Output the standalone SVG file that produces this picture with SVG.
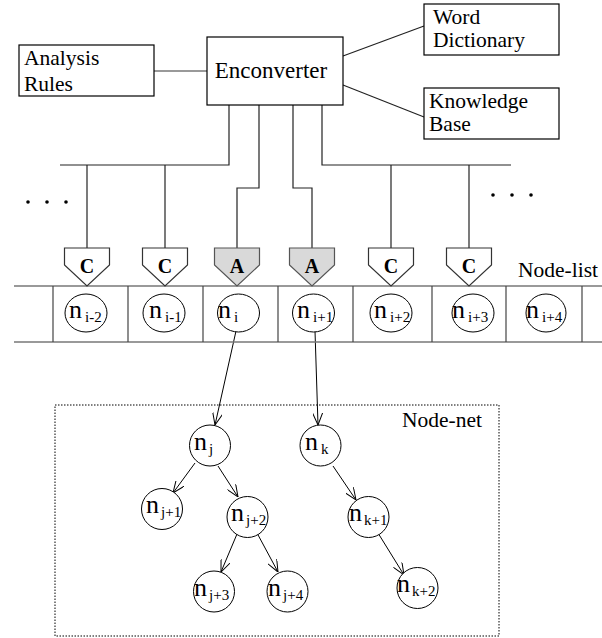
<svg xmlns="http://www.w3.org/2000/svg" width="602" height="638" viewBox="0 0 602 638" font-family="'Liberation Serif', 'Times New Roman', 'DejaVu Serif', serif">
<style>
text{font-family:'Liberation Serif','Times New Roman','DejaVu Serif',serif;fill:#000}
.lbl{font-size:21.5px}
.box{fill:#fff;stroke:#000;stroke-width:1.2}
.ln{fill:none;stroke:#222;stroke-width:1.2}
.gl{fill:none;stroke:#777;stroke-width:1.6}
.pc{fill:#fff;stroke:#333;stroke-width:1.2}
.pa{fill:#d9d9d9;stroke:#555;stroke-width:1.2}
.pt{font-size:20px;font-weight:bold;text-anchor:middle}
.nd{fill:#fff;stroke:#000;stroke-width:1}
.n{font-size:26px}
.s{font-size:15px}
.ar{fill:none;stroke:#000;stroke-width:1}
.dot{fill:#000}
</style>
<defs>
<marker id="arr" viewBox="0 0 12 10" refX="12" refY="5" markerWidth="12" markerHeight="10" markerUnits="userSpaceOnUse" orient="auto">
<path d="M0,0 L12,5 L0,10" fill="none" stroke="#000" stroke-width="1"/>
</marker>
</defs>
<rect width="602" height="638" fill="#fff"/>

<g id="connectors">
<line class="gl" x1="154" y1="71" x2="207" y2="71"/>
<line class="ln" x1="343" y1="56" x2="424" y2="26"/>
<line class="ln" x1="343" y1="85" x2="424" y2="117"/>
<polyline class="ln" points="229,105 229,165 60,165"/>
<line class="ln" x1="87" y1="165" x2="87" y2="248"/>
<line class="ln" x1="165" y1="165" x2="165" y2="248"/>
<polyline class="ln" points="259,105 259,188 237,188 237,248"/>
<polyline class="ln" points="293,105 293,188 312,188 312,248"/>
<polyline class="ln" points="322,105 322,165 511,165"/>
<line class="ln" x1="391" y1="165" x2="391" y2="248"/>
<line class="ln" x1="469" y1="165" x2="469" y2="248"/>
<line class="ar" x1="236" y1="331" x2="215" y2="425" marker-end="url(#arr)"/>
<line class="ar" x1="315" y1="331" x2="318" y2="425" marker-end="url(#arr)"/>
<line class="ar" x1="195" y1="463" x2="173" y2="493" marker-end="url(#arr)"/>
<line class="ar" x1="218" y1="466" x2="238" y2="497" marker-end="url(#arr)"/>
<line class="ar" x1="237" y1="534" x2="221" y2="572" marker-end="url(#arr)"/>
<line class="ar" x1="257" y1="533" x2="278" y2="572" marker-end="url(#arr)"/>
<line class="ar" x1="333" y1="466" x2="356" y2="500" marker-end="url(#arr)"/>
<line class="ar" x1="378" y1="533" x2="404" y2="575" marker-end="url(#arr)"/>
</g>

<g id="analysis-rules">
<rect class="box" x="19" y="45" width="135" height="51"/>
<text class="lbl" x="24" y="65">Analysis</text>
<text class="lbl" x="24" y="91">Rules</text>
</g>
<g id="enconverter">
<rect class="box" x="207" y="37" width="136" height="68"/>
<text class="lbl" x="271" y="78" text-anchor="middle" style="font-size:23px">Enconverter</text>
</g>
<g id="word-dictionary">
<rect class="box" x="424" y="4" width="135" height="51"/>
<text class="lbl" x="433" y="24">Word</text>
<text class="lbl" x="433" y="47">Dictionary</text>
</g>
<g id="knowledge-base">
<rect class="box" x="424" y="88" width="135" height="51"/>
<text class="lbl" x="429" y="108">Knowledge</text>
<text class="lbl" x="429" y="131">Base</text>
</g>

<g id="dots-left">
<circle class="dot" cx="28" cy="202" r="1.8"/>
<circle class="dot" cx="47" cy="202" r="1.8"/>
<circle class="dot" cx="66" cy="202" r="1.8"/>
</g>
<g id="dots-right">
<circle class="dot" cx="493" cy="195" r="1.8"/>
<circle class="dot" cx="512" cy="195" r="1.8"/>
<circle class="dot" cx="531" cy="195" r="1.8"/>
</g>

<g id="node-list">
<line class="gl" x1="14" y1="286" x2="602" y2="286"/>
<line class="gl" x1="14" y1="342" x2="602" y2="342"/>
<g stroke="#444" stroke-width="1.2">
<line x1="53" y1="286" x2="53" y2="342"/>
<line x1="128" y1="286" x2="128" y2="342"/>
<line x1="203" y1="286" x2="203" y2="342"/>
<line x1="278" y1="286" x2="278" y2="342"/>
<line x1="353" y1="286" x2="353" y2="342"/>
<line x1="432" y1="286" x2="432" y2="342"/>
<line x1="506" y1="286" x2="506" y2="342"/>
<line x1="582" y1="286" x2="582" y2="342"/>
</g>
<text class="lbl" x="518" y="277">Node-list</text>
</g>

<g id="marker-c1"><path class="pc" d="M64.5,248 H109.5 V265 L87,286 L64.5,265 Z"/><text class="pt" x="87" y="273">C</text></g>
<g id="marker-c2"><path class="pc" d="M142.5,248 H187.5 V265 L165,286 L142.5,265 Z"/><text class="pt" x="165" y="273">C</text></g>
<g id="marker-a1"><path class="pa" d="M214.5,248 H259.5 V265 L237,286 L214.5,265 Z"/><text class="pt" x="237" y="273">A</text></g>
<g id="marker-a2"><path class="pa" d="M289.5,248 H334.5 V265 L312,286 L289.5,265 Z"/><text class="pt" x="312" y="273">A</text></g>
<g id="marker-c3"><path class="pc" d="M368.5,248 H413.5 V265 L391,286 L368.5,265 Z"/><text class="pt" x="391" y="273">C</text></g>
<g id="marker-c4"><path class="pc" d="M446.5,248 H491.5 V265 L469,286 L446.5,265 Z"/><text class="pt" x="469" y="273">C</text></g>

<g id="n-i-2"><ellipse class="nd" cx="86" cy="313" rx="21" ry="19"/><text x="69" y="318"><tspan class="n">n</tspan><tspan class="s" dx="3" dy="4">i-2</tspan></text></g>
<g id="n-i-1"><ellipse class="nd" cx="164" cy="313" rx="21" ry="19"/><text x="149" y="318"><tspan class="n">n</tspan><tspan class="s" dx="3" dy="4">i-1</tspan></text></g>
<g id="n-i"><ellipse class="nd" cx="238.5" cy="313" rx="21" ry="19"/><text x="218" y="318"><tspan class="n">n</tspan><tspan class="s" dx="3" dy="4">i</tspan></text></g>
<g id="n-i+1"><ellipse class="nd" cx="313.5" cy="313" rx="21" ry="19"/><text x="297" y="318"><tspan class="n">n</tspan><tspan class="s" dx="3" dy="4">i+1</tspan></text></g>
<g id="n-i+2"><ellipse class="nd" cx="391" cy="313" rx="21" ry="19"/><text x="374" y="318"><tspan class="n">n</tspan><tspan class="s" dx="3" dy="4">i+2</tspan></text></g>
<g id="n-i+3"><ellipse class="nd" cx="473" cy="313" rx="21" ry="19"/><text x="452" y="318"><tspan class="n">n</tspan><tspan class="s" dx="3" dy="4">i+3</tspan></text></g>
<g id="n-i+4"><ellipse class="nd" cx="546" cy="313" rx="20" ry="19"/><text x="526" y="318"><tspan class="n">n</tspan><tspan class="s" dx="3" dy="4">i+4</tspan></text></g>

<g id="node-net">
<rect x="55" y="405" width="444" height="231" fill="none" stroke="#000" stroke-width="1" stroke-dasharray="1.5,1.5"/>
<text class="lbl" x="402" y="427">Node-net</text>
</g>

<g id="n-j"><circle class="nd" cx="210" cy="445.5" r="20.5"/><text x="194" y="450"><tspan class="n">n</tspan><tspan class="s" dx="2" dy="4">j</tspan></text></g>
<g id="n-k"><circle class="nd" cx="320.5" cy="445.5" r="20.5"/><text x="305" y="450"><tspan class="n">n</tspan><tspan class="s" dx="3" dy="4">k</tspan></text></g>
<g id="n-j+1"><circle class="nd" cx="162" cy="509" r="20.5"/><text x="146" y="513"><tspan class="n">n</tspan><tspan class="s" dx="2" dy="4">j+1</tspan></text></g>
<g id="n-j+2"><circle class="nd" cx="247.5" cy="517" r="20.5"/><text x="231" y="521"><tspan class="n">n</tspan><tspan class="s" dx="2" dy="4">j+2</tspan></text></g>
<g id="n-k+1"><circle class="nd" cx="368.5" cy="517" r="20.5"/><text x="349" y="521"><tspan class="n">n</tspan><tspan class="s" dx="2" dy="4">k+1</tspan></text></g>
<g id="n-j+3"><circle class="nd" cx="214" cy="591.5" r="20.5"/><text x="194" y="596"><tspan class="n">n</tspan><tspan class="s" dx="2" dy="4">j+3</tspan></text></g>
<g id="n-j+4"><circle class="nd" cx="287.5" cy="591.5" r="20.5"/><text x="268" y="596"><tspan class="n">n</tspan><tspan class="s" dx="2" dy="4">j+4</tspan></text></g>
<g id="n-k+2"><circle class="nd" cx="417.5" cy="588" r="20.5"/><text x="397" y="592"><tspan class="n">n</tspan><tspan class="s" dx="2" dy="4">k+2</tspan></text></g>
</svg>
